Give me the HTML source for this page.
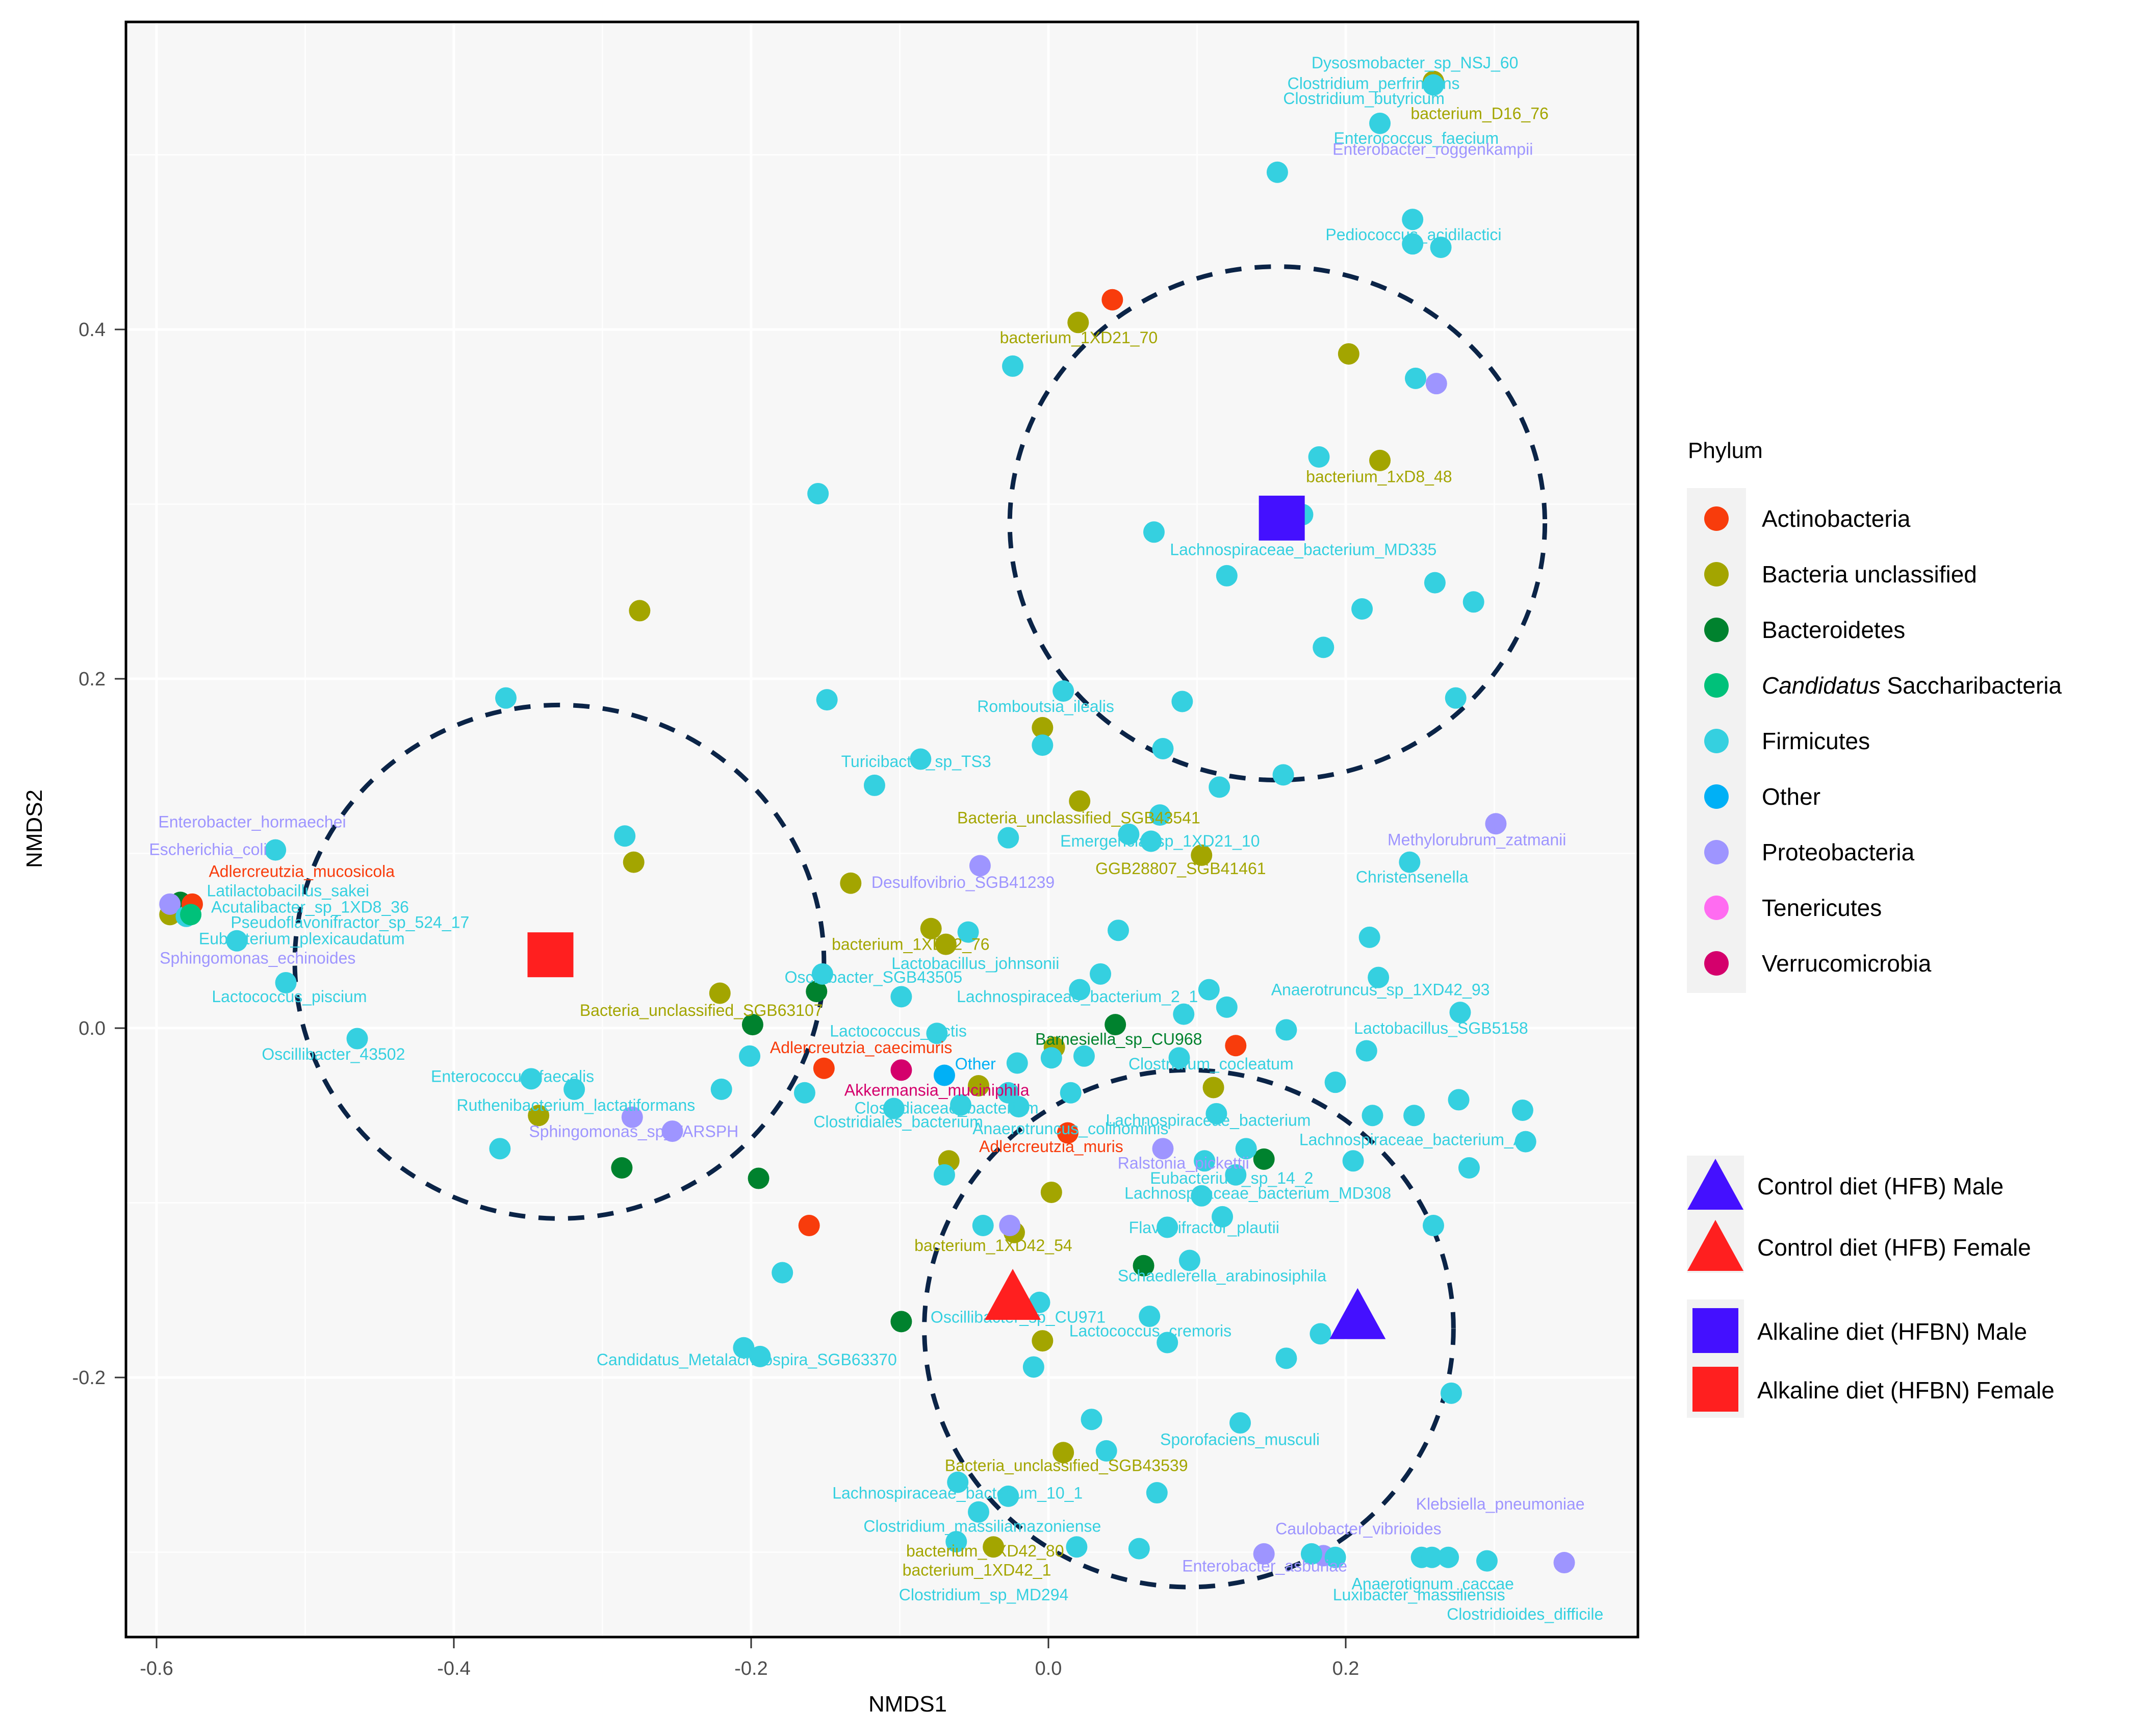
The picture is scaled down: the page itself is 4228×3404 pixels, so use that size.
<!DOCTYPE html>
<html><head><meta charset="utf-8"><style>
html,body{margin:0;padding:0;background:#fff;}
svg{display:block;font-family:"Liberation Sans",Arial,sans-serif;}
</style></head><body>
<svg id="chart" width="4228" height="3404" viewBox="0 0 4228 3404" xmlns="http://www.w3.org/2000/svg">
<rect x="0" y="0" width="4228" height="3404" fill="#ffffff"/>
<rect x="247" y="43" width="2965" height="3167" fill="#F7F7F7"/>
<g id="grid"></g>
<g id="ellipses"></g>
<g id="points"></g>
<g id="labels"></g>
<g id="centroids"></g>
<rect x="247" y="43" width="2965" height="3167" fill="none" stroke="#000" stroke-width="5"/>
<g id="axes"></g>
<text x="1780" y="3356" font-size="44" text-anchor="middle" fill="#000">NMDS1</text>
<text x="82" y="1625" font-size="44" text-anchor="middle" fill="#000" transform="rotate(-90 82 1625)">NMDS2</text>
<g id="legend">
<text x="3310" y="898" font-size="44" fill="#000">Phylum</text>
<rect x="3308" y="957" width="116" height="990" fill="#F2F2F2"/>
<rect x="3308" y="2266" width="112" height="230" fill="#F2F2F2"/>
<rect x="3308" y="2548" width="112" height="232" fill="#F2F2F2"/>
</g>
</svg>
<script>
const phyla = ["Actinobacteria","Bacteria unclassified","Bacteroidetes","Candidatus Saccharibacteria","Firmicutes","Other","Proteobacteria","Tenericutes","Verrucomicrobia"];
const phylumColors = ["#F83C0C","#A3A500","#00822E","#00C17A","#35D0E0","#00B0F6","#9E95FF","#FF6CF1","#D4006C"];
const xTicks = [-0.6,-0.4,-0.2,0.0,0.2];
const xTickLabels = ["-0.6","-0.4","-0.2","0.0","0.2"];
const yTicks = [-0.2,0.0,0.2,0.4];
const yTickLabels = ["-0.2","0.0","0.2","0.4"];
const pointX = [];
const pointY = [];
const pointP = [];
const firm = [[0.259,0.540],[0.223,0.518],[0.154,0.490],[0.245,0.463],[0.245,0.449],[0.264,0.447],[-0.024,0.379],[0.247,0.372],[0.182,0.327],[0.171,0.294],[0.071,0.284],[-0.155,0.306],[0.120,0.259],[0.260,0.255],[0.286,0.244],[0.211,0.240],[0.185,0.218],[0.010,0.193],[0.090,0.187],[-0.149,0.188],[-0.365,0.189],[0.274,0.189],[0.077,0.160],[-0.004,0.162],[0.158,0.145],[0.115,0.138],[-0.117,0.139],[-0.086,0.154],[0.075,0.122],[-0.027,0.109],[0.054,0.111],[0.069,0.107],[-0.285,0.110],[-0.520,0.102],[0.243,0.095],[-0.580,0.064],[-0.546,0.050],[-0.513,0.026],[-0.054,0.055],[0.047,0.056],[0.216,0.052],[-0.152,0.031],[-0.099,0.018],[0.035,0.031],[0.021,0.022],[0.222,0.029],[0.108,0.022],[0.120,0.012],[0.091,0.008],[0.277,0.009],[0.160,-0.001],[-0.075,-0.003],[-0.465,-0.006],[-0.201,-0.016],[0.214,-0.013],[0.002,-0.017],[0.024,-0.016],[-0.021,-0.020],[-0.027,-0.037],[0.088,-0.017],[-0.348,-0.029],[-0.319,-0.035],[-0.220,-0.035],[-0.164,-0.037],[0.015,-0.037],[0.193,-0.031],[0.276,-0.041],[-0.059,-0.044],[-0.020,-0.045],[-0.104,-0.046],[0.319,-0.047],[0.113,-0.049],[0.246,-0.050],[0.218,-0.050],[-0.369,-0.069],[0.321,-0.065],[0.133,-0.069],[0.105,-0.076],[0.205,-0.076],[-0.070,-0.084],[0.283,-0.080],[0.126,-0.084],[0.103,-0.096],[0.117,-0.108],[-0.044,-0.113],[0.080,-0.114],[0.259,-0.113],[-0.179,-0.140],[0.095,-0.133],[-0.006,-0.157],[0.068,-0.165],[0.080,-0.180],[0.183,-0.175],[-0.205,-0.183],[-0.194,-0.188],[0.160,-0.189],[-0.010,-0.194],[0.271,-0.209],[0.029,-0.224],[0.129,-0.226],[0.039,-0.242],[-0.061,-0.260],[0.073,-0.266],[-0.047,-0.277],[-0.027,-0.268],[0.019,-0.297],[0.061,-0.298],[0.177,-0.301],[0.193,-0.303],[0.251,-0.303],[0.258,-0.303],[0.269,-0.303],[0.295,-0.305],[-0.062,-0.294]];
const bunc = [[0.259,0.542],[0.020,0.404],[0.202,0.386],[0.223,0.325],[-0.275,0.239],[-0.004,0.172],[0.021,0.130],[0.103,0.099],[-0.279,0.095],[-0.133,0.083],[-0.079,0.057],[-0.069,0.048],[-0.591,0.065],[-0.221,0.020],[0.004,-0.011],[-0.343,-0.050],[-0.047,-0.033],[0.111,-0.034],[-0.067,-0.076],[0.002,-0.094],[-0.023,-0.117],[-0.004,-0.179],[0.010,-0.243],[-0.037,-0.297]];
const bact = [[-0.584,0.072],[-0.156,0.021],[-0.199,0.002],[0.045,0.002],[-0.287,-0.080],[-0.195,-0.086],[0.145,-0.075],[0.064,-0.136],[-0.099,-0.168]];
const actino = [[0.043,0.417],[-0.576,0.071],[0.126,-0.010],[-0.151,-0.023],[-0.161,-0.113],[0.013,-0.060]];
const cand = [[-0.577,0.065]];
const other = [[-0.070,-0.027]];
const verru = [[-0.099,-0.024]];
const proteo = [[0.261,0.369],[-0.046,0.093],[0.301,0.117],[-0.591,0.071],[-0.280,-0.051],[-0.253,-0.059],[0.077,-0.069],[-0.026,-0.113],[0.145,-0.301],[0.347,-0.306],[0.185,-0.302]];
[[bunc,1],[bact,2],[proteo,6],[firm,4],[actino,0],[cand,3],[other,5],[verru,8]].forEach(function(g){g[0].forEach(function(p){pointX.push(p[0]);pointY.push(p[1]);pointP.push(g[1]);});});

const labelText = ["Dysosmobacter_sp_NSJ_60","Clostridium_perfringens","Clostridium_butyricum","bacterium_D16_76","Enterococcus_faecium","Enterobacter_roggenkampii","Pediococcus_acidilactici","bacterium_1XD21_70","bacterium_1xD8_48","Lachnospiraceae_bacterium_MD335","Romboutsia_ilealis","Turicibacter_sp_TS3","Bacteria_unclassified_SGB43541","Emergencia_sp_1XD21_10","GGB28807_SGB41461","Desulfovibrio_SGB41239","Methylorubrum_zatmanii","Christensenella","Enterobacter_hormaechei","Escherichia_coli","Adlercreutzia_mucosicola","Latilactobacillus_sakei","Acutalibacter_sp_1XD8_36","Pseudoflavonifractor_sp_524_17","Eubacterium_plexicaudatum","Sphingomonas_echinoides","Lactococcus_piscium","bacterium_1XD42_76","Lactobacillus_johnsonii","Oscillibacter_SGB43505","Lachnospiraceae_bacterium_2_1","Anaerotruncus_sp_1XD42_93","Bacteria_unclassified_SGB63107","Lactobacillus_SGB5158","Lactococcus_lactis","Barnesiella_sp_CU968","Adlercreutzia_caecimuris","Oscillibacter_43502","Clostridium_cocleatum","Other","Enterococcus_faecalis","Akkermansia_muciniphila","Ruthenibacterium_lactatiformans","Clostridiaceae_bacterium","Clostridiales_bacterium","Lachnospiraceae_bacterium","Sphingomonas_sp_FARSPH","Lachnospiraceae_bacterium_A2","Anaerotruncus_colihominis","Adlercreutzia_muris","Ralstonia_pickettii","Eubacterium_sp_14_2","Lachnospiraceae_bacterium_MD308","Flavonifractor_plautii","bacterium_1XD42_54","Schaedlerella_arabinosiphila","Oscillibacter_sp_CU971","Lactococcus_cremoris","Candidatus_Metalachnospira_SGB63370","Sporofaciens_musculi","Bacteria_unclassified_SGB43539","Klebsiella_pneumoniae","Lachnospiraceae_bacterium_10_1","Caulobacter_vibrioides","Clostridium_massiliamazoniense","bacterium_1XD42_80","Enterobacter_asburiae","bacterium_1XD42_1","Anaerotignum_caccae","Clostridium_sp_MD294","Luxibacter_massiliensis","Clostridioides_difficile"];
const labelDisp = [[1030,46,4],[1000,61,4],[993,72,4],[1077,83,1],[1031,101,4],[1043,109,6],[1029,171,4],[786,246,1],[1004,347,1],[949,400,4],[762,514,4],[668,554,4],[786,595,1],[845,612,4],[860,632,1],[702,642,6],[1075,611,6],[1028,638,4],[186,598,6],[154,618,6],[222,634,0],[212,648,4],[228,660,4],[257,671,4],[222,683,4],[190,697,6],[213,725,4],[664,687,1],[711,701,4],[637,711,4],[785,725,4],[1005,720,4],[512,735,1],[1049,748,4],[655,750,4],[815,756,2],[628,762,0],[245,767,4],[882,774,4],[711,774,5],[375,783,4],[683,793,8],[421,804,4],[690,806,4],[655,816,4],[880,815,4],[463,823,6],[1031,829,4],[780,821,4],[766,834,0],[862,846,6],[897,857,4],[916,868,4],[877,893,4],[724,906,1],[890,928,4],[742,958,4],[838,968,4],[545,989,4],[903,1047,4],[777,1066,1],[1092,1094,6],[698,1086,4],[989,1112,6],[716,1110,4],[718,1128,1],[921,1139,6],[712,1142,1],[1043,1152,4],[717,1160,4],[1033,1160,4],[1110,1174,4]];
const labelX = labelDisp.map(function(d){return (d[0]-764)/1079;});
const labelY = labelDisp.map(function(d){return (748-d[1])/1270;});
const labelP = labelDisp.map(function(d){return d[2];});

const ellipseCX = [0.154,-0.329,0.0945];
const ellipseCY = [0.289,0.038,-0.172];
const ellipseRX = [0.180,0.178,0.178];
const ellipseRY = [0.147,0.147,0.148];
const groupNames = ["Control diet (HFB) Male","Control diet (HFB) Female","Alkaline diet (HFBN) Male","Alkaline diet (HFBN) Female"];
const groupX = [0.208,-0.024,0.157,-0.335];
const groupY = [-0.164,-0.153,0.292,0.042];
const groupShape = ["tri","tri","sq","sq"];
const groupColor = ["#4410FF","#FF1F1F","#4410FF","#FF1F1F"];

const NS="http://www.w3.org/2000/svg";
const XS=2915, YS=3425;
function X(v){return 2056+v*XS;}
function Y(v){return 2016-v*YS;}
function mk(tag,attrs,parent){const e=document.createElementNS(NS,tag);for(const k in attrs)e.setAttribute(k,attrs[k]);parent.appendChild(e);return e;}
const grid=document.getElementById('grid');
for(let k=-7;k<=4;k++){const v=k/10;const px=X(v);if(px<250||px>3209)continue;const l=mk('line',{x1:px,x2:px,y1:43,y2:3210,stroke:'#FFFFFF','stroke-width':Math.abs(k)%2===0?5:2.5},grid);}
for(let k=-4;k<=6;k++){const v=k/10;const py=Y(v);if(py<46||py>3207)continue;const l=mk('line',{x1:247,x2:3212,y1:py,y2:py,stroke:'#FFFFFF','stroke-width':Math.abs(k)%2===0?5:2.5},grid);}
const ell=document.getElementById('ellipses');
for(let i=0;i<ellipseCX.length;i++){const e=mk('ellipse',{cx:X(ellipseCX[i]),cy:Y(ellipseCY[i]),rx:ellipseRX[i]*XS,ry:ellipseRY[i]*YS,fill:'none',stroke:'#0B2447','stroke-width':9,'stroke-dasharray':'32 26'},ell);}
const pts=document.getElementById('points');
for(let i=0;i<pointX.length;i++){const c=mk('circle',{cx:X(pointX[i]),cy:Y(pointY[i]),r:21,fill:phylumColors[pointP[i]]},pts);}
const lab=document.getElementById('labels');
for(let i=0;i<labelText.length;i++){const t=mk('text',{x:X(labelX[i]),y:Y(labelY[i])+11,'font-size':32,'text-anchor':'middle',fill:phylumColors[labelP[i]]},lab);t.textContent=labelText[i];}
const cen=document.getElementById('centroids');
function drawShape(shape,cx,cy,color,parent,name){let e;if(shape==='tri'){e=mk('polygon',{points:(cx-55)+','+(cy+48)+' '+(cx+55)+','+(cy+48)+' '+cx+','+(cy-52),fill:color},parent);}else{e=mk('rect',{x:cx-45,y:cy-44,width:90,height:88,fill:color},parent);}}
for(let i=0;i<groupX.length;i++){drawShape(groupShape[i],X(groupX[i]),Y(groupY[i]),groupColor[i],cen,'group-centroid');}
const ax=document.getElementById('axes');
for(let i=0;i<xTicks.length;i++){const px=X(xTicks[i]);const l=mk('line',{x1:px,x2:px,y1:3212,y2:3232,stroke:'#333','stroke-width':3},ax);const t=mk('text',{x:px,y:3284,'font-size':38,'text-anchor':'middle',fill:'#4D4D4D'},ax);t.textContent=xTickLabels[i];}
for(let i=0;i<yTicks.length;i++){const py=Y(yTicks[i]);const l=mk('line',{x1:225,x2:245,y1:py,y2:py,stroke:'#333','stroke-width':3},ax);const t=mk('text',{x:207,y:py+13,'font-size':38,'text-anchor':'end',fill:'#4D4D4D'},ax);t.textContent=yTickLabels[i];}
const lg=document.getElementById('legend');
for(let i=0;i<phyla.length;i++){const cy=1017+i*109;const c=mk('circle',{cx:3366,cy:cy,r:24,fill:phylumColors[i]},lg);const t=mk('text',{x:3455,y:cy+16,'font-size':46,fill:'#000'},lg);if(i===3){const ts=mk('tspan',{'font-style':'italic'},t);ts.textContent='Candidatus';const ts2=mk('tspan',{},t);ts2.textContent=' Saccharibacteria';}else{t.textContent=phyla[i];}}
const gy=[2324,2444,2609,2724];
for(let i=0;i<groupNames.length;i++){drawShape(groupShape[i],3364,gy[i],groupColor[i],lg,'legend-group-key');const t=mk('text',{x:3446,y:gy[i]+18,'font-size':46,fill:'#000'},lg);t.textContent=groupNames[i];}
</script>
</body></html>
